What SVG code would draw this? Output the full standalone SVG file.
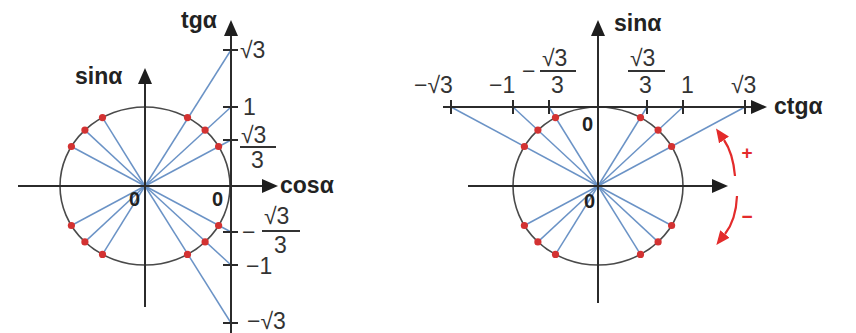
<svg xmlns="http://www.w3.org/2000/svg" width="856" height="333" viewBox="0 0 856 333">
<defs>
<style>
.axis{stroke:#2b2b2b;stroke-width:2;fill:none}
.tick{stroke:#2b2b2b;stroke-width:2}
.circ{stroke:#4a4a4a;stroke-width:1.6;fill:none}
.ray{stroke:#6b93c6;stroke-width:1.5}
.dot{fill:#d33232}
.lbl{font-family:"Liberation Sans",Arial,sans-serif;font-size:23px;fill:#333}
.ax{font-family:"Liberation Sans",Arial,sans-serif;font-size:23px;font-weight:bold;fill:#222}
.zero{font-family:"Liberation Sans",Arial,sans-serif;font-size:20px;font-weight:bold;fill:#222}
.bar{stroke:#333;stroke-width:1.8}
.red{stroke:#e32b2b;stroke-width:2.2;fill:none}
.redt{font-family:"Liberation Sans",Arial,sans-serif;font-size:19px;font-weight:bold;fill:#e32b2b}
</style>
<marker id="ah" markerUnits="userSpaceOnUse" markerWidth="16" markerHeight="14" refX="0" refY="7" orient="auto">
<path d="M0,0 L16,7 L0,14 Z" fill="#1e1e1e"/>
</marker>
<marker id="ahr" markerUnits="userSpaceOnUse" markerWidth="14" markerHeight="12" refX="0" refY="6" orient="auto">
<path d="M0,0 L14,6 L0,12 Z" fill="#e32b2b"/>
</marker>
</defs>
<rect width="856" height="333" fill="#ffffff"/>

<!-- LEFT DIAGRAM: tangent -->
<g id="left-circle">
<ellipse class="circ" cx="145" cy="186" rx="85" ry="79"/>
</g>
<g id="left-rays">
<line class="ray" x1="145" y1="186" x2="231" y2="50"/>
<line class="ray" x1="145" y1="186" x2="231" y2="107"/>
<line class="ray" x1="145" y1="186" x2="231" y2="140"/>
<line class="ray" x1="145" y1="186" x2="231" y2="232"/>
<line class="ray" x1="145" y1="186" x2="231" y2="265"/>
<line class="ray" x1="145" y1="186" x2="231" y2="323"/>
<line class="ray" x1="145" y1="186" x2="102.5" y2="117.6"/>
<line class="ray" x1="145" y1="186" x2="84.9" y2="130.1"/>
<line class="ray" x1="145" y1="186" x2="71.4" y2="146.5"/>
<line class="ray" x1="145" y1="186" x2="102.5" y2="254.4"/>
<line class="ray" x1="145" y1="186" x2="84.9" y2="241.9"/>
<line class="ray" x1="145" y1="186" x2="71.4" y2="225.5"/>
</g>
<g id="left-axes">
<line class="axis" x1="18" y1="186" x2="262" y2="186" marker-end="url(#ah)"/>
<line class="axis" x1="145" y1="307" x2="145" y2="84" marker-end="url(#ah)"/>
<line class="axis" x1="231" y1="333" x2="231" y2="36" marker-end="url(#ah)"/>
<line class="tick" x1="223" y1="50" x2="238" y2="50"/>
<line class="tick" x1="223" y1="107" x2="238" y2="107"/>
<line class="tick" x1="223" y1="140" x2="238" y2="140"/>
<line class="tick" x1="223" y1="232" x2="238" y2="232"/>
<line class="tick" x1="223" y1="265" x2="238" y2="265"/>
<line class="tick" x1="223" y1="323" x2="238" y2="323"/>
</g>
<g id="left-dots">
<circle class="dot" cx="218.6" cy="146.5" r="3.6"/>
<circle class="dot" cx="205.1" cy="130.1" r="3.6"/>
<circle class="dot" cx="187.5" cy="117.6" r="3.6"/>
<circle class="dot" cx="71.4" cy="146.5" r="3.6"/>
<circle class="dot" cx="84.9" cy="130.1" r="3.6"/>
<circle class="dot" cx="102.5" cy="117.6" r="3.6"/>
<circle class="dot" cx="218.6" cy="225.5" r="3.6"/>
<circle class="dot" cx="205.1" cy="241.9" r="3.6"/>
<circle class="dot" cx="187.5" cy="254.4" r="3.6"/>
<circle class="dot" cx="71.4" cy="225.5" r="3.6"/>
<circle class="dot" cx="84.9" cy="241.9" r="3.6"/>
<circle class="dot" cx="102.5" cy="254.4" r="3.6"/>
</g>
<g id="left-labels">
<text class="ax" x="75" y="84">sinα</text>
<text class="ax" x="181" y="28">tgα</text>
<text class="ax" x="280" y="193">cosα</text>
<text class="zero" x="129" y="206">0</text>
<text class="zero" x="212" y="206">0</text>
<text class="lbl" x="240" y="58">√3</text>
<text class="lbl" x="243" y="115">1</text>
<text class="lbl" x="241" y="143">√3</text>
<line class="bar" x1="240" y1="147" x2="276" y2="147"/>
<text class="lbl" x="251" y="168">3</text>
<text class="lbl" x="242" y="240">−</text>
<text class="lbl" x="264" y="224">√3</text>
<line class="bar" x1="262" y1="231" x2="300" y2="231"/>
<text class="lbl" x="274" y="253">3</text>
<text class="lbl" x="246" y="274">−1</text>
<text class="lbl" x="247" y="329">−√3</text>
</g>

<!-- RIGHT DIAGRAM: cotangent -->
<g id="right-circle">
<ellipse class="circ" cx="598" cy="186" rx="85" ry="79"/>
</g>
<g id="right-rays">
<line class="ray" x1="598" y1="186" x2="451" y2="107"/>
<line class="ray" x1="598" y1="186" x2="513" y2="107"/>
<line class="ray" x1="598" y1="186" x2="549" y2="107"/>
<line class="ray" x1="598" y1="186" x2="647" y2="107"/>
<line class="ray" x1="598" y1="186" x2="683" y2="107"/>
<line class="ray" x1="598" y1="186" x2="745" y2="107"/>
<line class="ray" x1="598" y1="186" x2="671.6" y2="225.5"/>
<line class="ray" x1="598" y1="186" x2="658.1" y2="241.9"/>
<line class="ray" x1="598" y1="186" x2="640.5" y2="254.4"/>
<line class="ray" x1="598" y1="186" x2="524.4" y2="225.5"/>
<line class="ray" x1="598" y1="186" x2="537.9" y2="241.9"/>
<line class="ray" x1="598" y1="186" x2="555.5" y2="254.4"/>
</g>
<g id="right-axes">
<line class="axis" x1="443" y1="107" x2="751" y2="107" marker-end="url(#ah)"/>
<line class="axis" x1="598" y1="303" x2="598" y2="36" marker-end="url(#ah)"/>
<line class="axis" x1="468" y1="186" x2="712" y2="186" marker-end="url(#ah)"/>
<line class="tick" x1="451" y1="100" x2="451" y2="114"/>
<line class="tick" x1="513" y1="100" x2="513" y2="114"/>
<line class="tick" x1="549" y1="100" x2="549" y2="114"/>
<line class="tick" x1="647" y1="100" x2="647" y2="114"/>
<line class="tick" x1="683" y1="100" x2="683" y2="114"/>
<line class="tick" x1="745" y1="100" x2="745" y2="114"/>
</g>
<g id="right-dots">
<circle class="dot" cx="671.6" cy="146.5" r="3.6"/>
<circle class="dot" cx="658.1" cy="130.1" r="3.6"/>
<circle class="dot" cx="640.5" cy="117.6" r="3.6"/>
<circle class="dot" cx="524.4" cy="146.5" r="3.6"/>
<circle class="dot" cx="537.9" cy="130.1" r="3.6"/>
<circle class="dot" cx="555.5" cy="117.6" r="3.6"/>
<circle class="dot" cx="671.6" cy="225.5" r="3.6"/>
<circle class="dot" cx="658.1" cy="241.9" r="3.6"/>
<circle class="dot" cx="640.5" cy="254.4" r="3.6"/>
<circle class="dot" cx="524.4" cy="225.5" r="3.6"/>
<circle class="dot" cx="537.9" cy="241.9" r="3.6"/>
<circle class="dot" cx="555.5" cy="254.4" r="3.6"/>
</g>
<g id="right-labels">
<text class="ax" x="614" y="31">sinα</text>
<text class="ax" x="774" y="114">ctgα</text>
<text class="zero" x="582" y="131">0</text>
<text class="zero" x="584" y="208">0</text>
<text class="lbl" x="414" y="93">−√3</text>
<text class="lbl" x="489" y="93">−1</text>
<text class="lbl" x="522" y="79">−</text>
<text class="lbl" x="542" y="66">√3</text>
<line class="bar" x1="540" y1="71" x2="576" y2="71"/>
<text class="lbl" x="551" y="93">3</text>
<text class="lbl" x="630" y="66">√3</text>
<line class="bar" x1="628" y1="71" x2="665" y2="71"/>
<text class="lbl" x="639" y="93">3</text>
<text class="lbl" x="681" y="93">1</text>
<text class="lbl" x="731" y="93">√3</text>
</g>
<g id="direction-arrows">
<path class="red" d="M735,176 Q733,153 724,140" marker-end="url(#ahr)"/>
<path class="red" d="M737,196 Q736,220 725,234" marker-end="url(#ahr)"/>
<text class="redt" x="747" y="159" text-anchor="middle">+</text>
<text class="redt" x="747" y="223" text-anchor="middle">−</text>
</g>
</svg>
